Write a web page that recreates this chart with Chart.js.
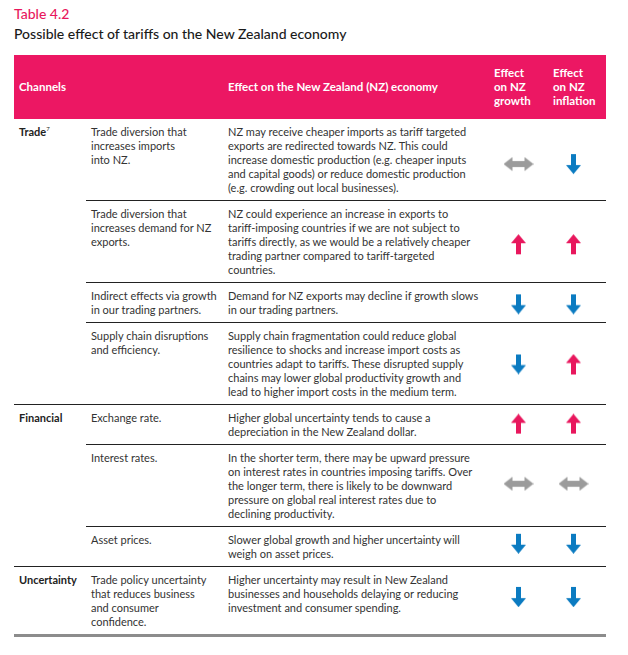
<!DOCTYPE html>
<html>
<head>
<meta charset="utf-8">
<script src="https://cdn.jsdelivr.net/npm/chart.js@4/dist/chart.umd.min.js"></script>
<style>
  body { margin: 0; background: #fff; font-family: Lato, "Noto Sans", sans-serif; color: #333; }
  #wrap { position: absolute; left: 14px; top: 0; width: 592px; }
  .title { margin-top: 4px; font-size: 14px; line-height: 19px; color: #e8175d; font-weight: 500; }
  .subtitle { margin-top: 1px; font-size: 14px; line-height: 19px; color: #1a1a1a; font-weight: 500; }
  #tableBox { position: relative; margin-top: 12px; }
  table { border-collapse: collapse; width: 592px; table-layout: fixed; font-size: 11px; line-height: 14px; }
  thead th { background: #ec1763; color: #fff; font-weight: 700; text-align: left; vertical-align: middle;
             height: 64px; padding: 0 5px; box-sizing: border-box; font-size: 11.5px; }
  thead th.arrowHead { padding-left: 8px; }
  tbody td { vertical-align: top; padding: 6px 5px 5px 5px; white-space: pre-line; border-top: 1px solid #222; }
  tbody tr:first-child td { border-top: none; }
  tbody tr:last-child td { border-bottom: 3px solid #8c8c8c; }
  td.channel { font-weight: 700; color: #222; }
  td.effect { padding-left: 6px; }
  sup { font-size: 6px; font-weight: 400; vertical-align: 5px; line-height: 0; }
  #arrowChart { position: absolute; }
</style>
</head>
<body>
<div id="wrap">
  <div class="title">Table 4.2</div>
  <div class="subtitle">Possible effect of tariffs on the New Zealand economy</div>
  <div id="tableBox">
    <table id="tbl">
      <colgroup>
        <col style="width:72px"><col style="width:136px"><col style="width:264px"><col style="width:59px"><col style="width:61px">
      </colgroup>
      <thead>
        <tr>
          <th>Channels</th>
          <th></th>
          <th style="padding-left:6px">Effect on the New Zealand (NZ) economy</th>
          <th class="arrowHead">Effect<br>on NZ<br>growth</th>
          <th class="arrowHead">Effect<br>on NZ<br>inflation</th>
        </tr>
      </thead>
      <tbody id="tbody"></tbody>
    </table>
    <canvas id="arrowChart"></canvas>
  </div>
</div>

<script>
// channels and the rows that belong to each
const channels = ['Trade', 'Financial', 'Uncertainty'];
const channelNotes = ['7', '', ''];
const rowChannel = [0, 0, 0, 0, 1, 1, 1, 2];

const rowLabels = [
  'Trade diversion that\nincreases imports\ninto NZ.',
  'Trade diversion that\nincreases demand for NZ\nexports.',
  'Indirect effects via growth\nin our trading partners.',
  'Supply chain disruptions\nand efficiency.',
  'Exchange rate.',
  'Interest rates.',
  'Asset prices.',
  'Trade policy uncertainty\nthat reduces business\nand consumer\nconfidence.'
];

const rowEffects = [
  'NZ may receive cheaper imports as tariff targeted\nexports are redirected towards NZ. This could\nincrease domestic production (e.g. cheaper inputs\nand capital goods) or reduce domestic production\n(e.g. crowding out local businesses).',
  'NZ could experience an increase in exports to\ntariff-imposing countries if we are not subject to\ntariffs directly, as we would be a relatively cheaper\ntrading partner compared to tariff-targeted\ncountries.',
  'Demand for NZ exports may decline if growth slows\nin our trading partners.',
  'Supply chain fragmentation could reduce global\nresilience to shocks and increase import costs as\ncountries adapt to tariffs. These disrupted supply\nchains may lower global productivity growth and\nlead to higher import costs in the medium term.',
  'Higher global uncertainty tends to cause a\ndepreciation in the New Zealand dollar.',
  'In the shorter term, there may be upward pressure\non interest rates in countries imposing tariffs. Over\nthe longer term, there is likely to be downward\npressure on global real interest rates due to\ndeclining productivity.',
  'Slower global growth and higher uncertainty will\nweigh on asset prices.',
  'Higher uncertainty may result in New Zealand\nbusinesses and households delaying or reducing\ninvestment and consumer spending.'
];

// direction of effect: up / down / both
const effectColumns = ['growth', 'inflation'];
const growthEffect = ['both', 'up', 'down', 'down', 'up', 'both', 'down', 'down'];
const inflationEffect = ['down', 'up', 'down', 'up', 'up', 'both', 'down', 'down'];

// build table body
const tbody = document.getElementById('tbody');
rowLabels.forEach((label, i) => {
  const tr = document.createElement('tr');
  const ch = rowChannel[i];
  if (i === 0 || rowChannel[i - 1] !== ch) {
    const td = document.createElement('td');
    td.className = 'channel';
    td.rowSpan = rowChannel.filter(c => c === ch).length;
    td.innerHTML = channels[ch] + (channelNotes[ch] ? '<sup>' + channelNotes[ch] + '</sup>' : '');
    tr.appendChild(td);
  }
  const tdLabel = document.createElement('td');
  tdLabel.textContent = label;
  tr.appendChild(tdLabel);
  const tdEffect = document.createElement('td');
  tdEffect.className = 'effect';
  tdEffect.textContent = rowEffects[i];
  tr.appendChild(tdEffect);
  tr.appendChild(document.createElement('td'));
  tr.appendChild(document.createElement('td'));
  tbody.appendChild(tr);
});

// arrow icons
function makeIcon(kind) {
  const c = document.createElement('canvas');
  const g = c.getContext('2d');
  if (kind === 'both') {
    c.width = 30; c.height = 14;
    g.fillStyle = '#9b9b9b';
    g.beginPath();
    g.moveTo(0, 7); g.lineTo(9, 0); g.lineTo(9, 4); g.lineTo(21, 4); g.lineTo(21, 0);
    g.lineTo(30, 7); g.lineTo(21, 14); g.lineTo(21, 10); g.lineTo(9, 10); g.lineTo(9, 14);
    g.closePath(); g.fill();
  } else {
    c.width = 15; c.height = 20;
    g.fillStyle = kind === 'up' ? '#e8175d' : '#0b7bc1';
    g.save();
    if (kind === 'down') { g.translate(0, 20); g.scale(1, -1); }
    g.beginPath();
    g.moveTo(7.5, 0); g.lineTo(15, 9); g.lineTo(10, 9); g.lineTo(10, 20);
    g.lineTo(5, 20); g.lineTo(5, 9); g.lineTo(0, 9);
    g.closePath(); g.fill();
    g.restore();
  }
  return c;
}
const icons = { up: makeIcon('up'), down: makeIcon('down'), both: makeIcon('both') };

// place chart over the two effect columns
const rows = Array.from(tbody.rows);
const bodyRect = tbody.getBoundingClientRect();
const boxRect = document.getElementById('tableBox').getBoundingClientRect();
const firstEffectCell = rows[0].cells[rows[0].cells.length - 2];
const colRect = firstEffectCell.getBoundingClientRect();
const chartW = bodyRect.right - colRect.left;
const chartH = bodyRect.height - 3;
const rowCenters = rows.map(r => {
  const rr = r.getBoundingClientRect();
  return (rr.top + rr.bottom) / 2 - bodyRect.top;
});

const canvas = document.getElementById('arrowChart');
canvas.width = chartW; canvas.height = chartH;
canvas.style.width = chartW + 'px'; canvas.style.height = chartH + 'px';
canvas.style.left = (colRect.left - boxRect.left) + 'px';
canvas.style.top = (bodyRect.top - boxRect.top) + 'px';

new Chart(canvas, {
  type: 'scatter',
  data: {
    datasets: [
      {
        data: rowCenters.map(y => ({ x: effectColumns[0], y })),
        pointStyle: growthEffect.map(e => icons[e]),
        clip: false
      },
      {
        data: rowCenters.map(y => ({ x: effectColumns[1], y })),
        pointStyle: inflationEffect.map(e => icons[e]),
        clip: false
      }
    ]
  },
  options: {
    responsive: false,
    animation: false,
    devicePixelRatio: 1,
    events: [],
    layout: { padding: 0 },
    plugins: { legend: { display: false }, tooltip: { enabled: false } },
    scales: {
      x: { type: 'category', labels: effectColumns, offset: true, display: false },
      y: { type: 'linear', min: 0, max: chartH, reverse: true, display: false }
    }
  }
});
</script>
</body>
</html>
